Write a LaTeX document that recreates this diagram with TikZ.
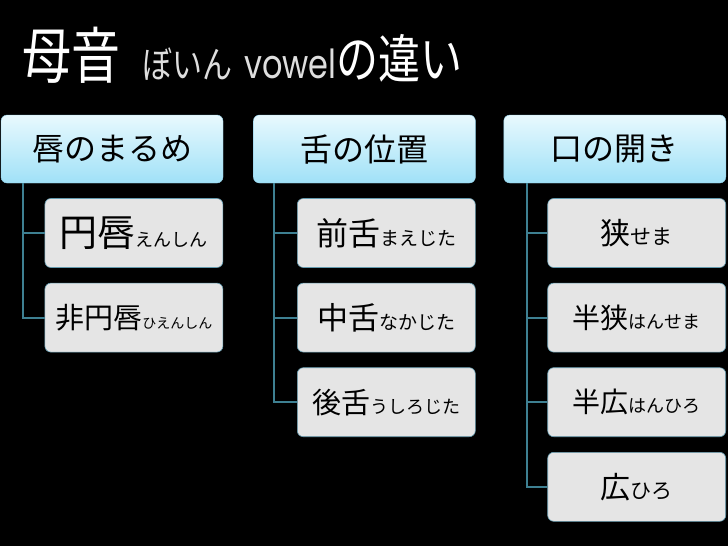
\documentclass[tikz,border=0pt]{standalone}
\usepackage{fontspec}
\setmainfont{Noto Sans CJK JP}
\newfontfamily\latinfont{Poppins}
\usetikzlibrary{positioning}
\definecolor{headtop}{RGB}{232,249,254}
\definecolor{headbot}{RGB}{160,225,247}
\definecolor{headline}{RGB}{150,210,235}
\definecolor{leaffill}{RGB}{229,229,229}
\definecolor{leafline}{RGB}{100,155,175}
\definecolor{branchblue}{RGB}{62,128,146}
\definecolor{titlegray}{RGB}{222,222,222}
\newcommand\sz[2]{{\fontsize{#1}{#1}\selectfont #2}}

\begin{document}
\begin{tikzpicture}[x=1pt,y=-1pt,node distance=15pt,
    head/.style={rectangle,rounded corners=6pt,draw=headline,top color=headtop,bottom color=headbot,minimum width=222pt,minimum height=68pt,inner sep=0pt,text=black},
    leaf/.style={rectangle,rounded corners=6pt,draw=leafline,line width=0.6pt,fill=leaffill,minimum width=178pt,minimum height=69pt,inner sep=0pt,text=black},
    branch/.style={draw=branchblue,line width=2pt}]

    % Background
    \fill[black] (0,0) rectangle (728,546);

    % Title
    \node[anchor=base west,inner sep=0pt,text=white] (title) at (22,78) {\scalebox{1}[1.25]{\sz{49}{母音}\hspace{22pt}\textcolor{titlegray}{\sz{30}{ぼいん}\hspace{12pt}\sz{32}{\latinfont vowel}}\sz{42}{の違い}}};

    % Headers
    \node[head] (lip) at (112,149) {\sz{32}{唇のまるめ}};
    \node[head,right=30pt of lip] (tongue) {\sz{32}{舌の位置}};
    \node[head,right=28pt of tongue] (mouth) {\sz{32}{口の開き}};

    % Trunks
    \coordinate (lipTrunk) at ([xshift=22pt]lip.south west);
    \coordinate (tongueTrunk) at ([xshift=21pt]tongue.south west);
    \coordinate (mouthTrunk) at ([xshift=23pt]mouth.south west);

    % Lip rounding
    \node[leaf,below=15pt of lip.south east,anchor=north east] (enshin) {\sz{38}{円唇}\sz{18}{えんしん}};
    \node[leaf,below=of enshin] (hienshin) {\sz{29}{非円唇}\sz{14}{ひえんしん}};

    % Tongue position
    \node[leaf,below=15pt of tongue.south east,anchor=north east] (maejita) {\sz{32}{前舌}\sz{19}{まえじた}};
    \node[leaf,below=of maejita] (nakajita) {\sz{31}{中舌}\sz{19}{なかじた}};
    \node[leaf,below=of nakajita] (ushirojita) {\sz{29}{後舌}\sz{18}{うしろじた}};

    % Mouth opening
    \node[leaf,below=15pt of mouth.south east,anchor=north east] (sema) {\sz{30}{狭}\sz{21}{せま}};
    \node[leaf,below=of sema] (hansema) {\sz{28}{半狭}\sz{18}{はんせま}};
    \node[leaf,below=of hansema] (hanhiro) {\sz{28}{半広}\sz{18}{はんひろ}};
    \node[leaf,below=of hanhiro] (hiro) {\sz{30}{広}\sz{21}{ひろ}};

    % Branches
    \draw[branch] (lipTrunk) |- (hienshin.west);
    \draw[branch] (lipTrunk |- enshin.west) -- (enshin.west);
    \draw[branch] (tongueTrunk) |- (ushirojita.west);
    \foreach \n in {maejita,nakajita}
        \draw[branch] (tongueTrunk |- \n.west) -- (\n.west);
    \draw[branch] (mouthTrunk) |- (hiro.west);
    \foreach \n in {sema,hansema,hanhiro}
        \draw[branch] (mouthTrunk |- \n.west) -- (\n.west);
\end{tikzpicture}
\end{document}
